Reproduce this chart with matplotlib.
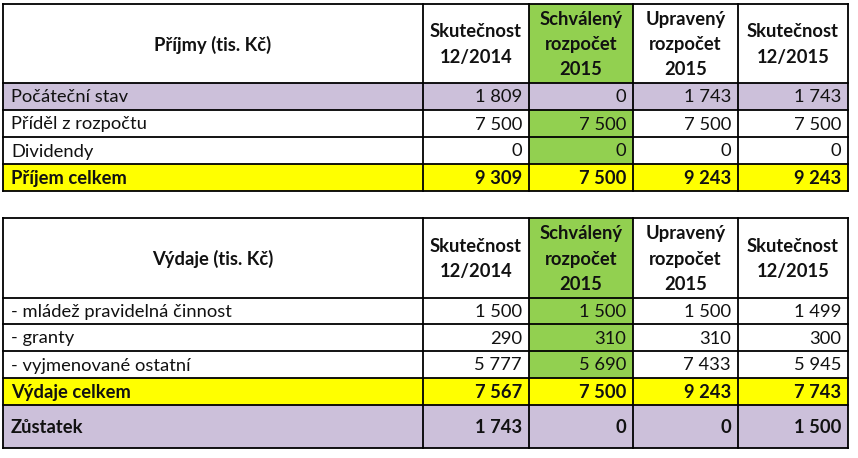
import matplotlib
matplotlib.use("Agg")
import matplotlib.pyplot as plt
from matplotlib.patches import Rectangle

plt.rcParams['font.family'] = ['Lato', 'DejaVu Sans']

# ---- data ----
col_headers = ["Skutečnost\n12/2014", "Schválený\nrozpočet\n2015", "Upravený\nrozpočet\n2015", "Skutečnost\n12/2015"]

inc_title = "Příjmy (tis. Kč)"
inc_labels = ["Počáteční stav", "Příděl z rozpočtu", "Dividendy", "Příjem celkem"]
inc_s2014 = [1809, 7500, 0, 9309]
inc_sch2015 = [0, 7500, 0, 7500]
inc_upr2015 = [1743, 7500, 0, 9243]
inc_s2015 = [1743, 7500, 0, 9243]
inc_styles = ["purple", "normal", "normal", "total"]

exp_title = "Výdaje (tis. Kč)"
exp_labels = ["- mládež pravidelná činnost", "- granty", "- vyjmenované ostatní", "Výdaje celkem", "Zůstatek"]
exp_s2014 = [1500, 290, 5777, 7567, 1743]
exp_sch2015 = [1500, 310, 5690, 7500, 0]
exp_upr2015 = [1500, 310, 7433, 9243, 0]
exp_s2015 = [1499, 300, 5945, 7743, 1500]
exp_styles = ["normal", "normal", "normal", "total", "purple_bold"]

# ---- layout ----
W, H = 858, 458
col_edges = [3, 423, 529, 633, 738, 848]
inc_rows = [4, 83, 110, 137, 164, 191]
exp_rows = [218, 298, 324, 351, 378, 405, 448]

PURPLE = "#CCC0DA"
GREEN = "#92D050"
YELLOW = "#FFFF00"
TXT = "#111111"
FS = 13.2
HFS = 13.2

fig = plt.figure(figsize=(W / 100, H / 100), dpi=100)
ax = fig.add_axes([0, 0, 1, 1])
ax.set_xlim(0, W)
ax.set_ylim(H, 0)
ax.axis('off')


def fmt(v):
    return f"{v:,}".replace(",", " ")


def draw_table(title, labels, cols, styles, rows):
    ncols = len(col_edges) - 1
    # header fills
    for c in range(ncols):
        fc = GREEN if c == 2 else "white"
        ax.add_patch(Rectangle((col_edges[c], rows[0]), col_edges[c + 1] - col_edges[c],
                               rows[1] - rows[0], facecolor=fc, edgecolor='none'))
    # body fills
    for r, st in enumerate(styles):
        y0, y1 = rows[r + 1], rows[r + 2]
        for c in range(ncols):
            if st.startswith("purple"):
                fc = PURPLE
            elif st == "total":
                fc = YELLOW
            else:
                fc = GREEN if c == 2 else "white"
            ax.add_patch(Rectangle((col_edges[c], y0), col_edges[c + 1] - col_edges[c],
                                   y1 - y0, facecolor=fc, edgecolor='none'))
    # grid lines
    for y in rows:
        ax.plot([col_edges[0], col_edges[-1]], [y, y], color='black', lw=1.3, solid_capstyle='projecting')
    for x in col_edges:
        ax.plot([x, x], [rows[0], rows[-1]], color='black', lw=1.3, solid_capstyle='projecting')
    # header text
    hy = (rows[0] + rows[1]) / 2 + 1
    ax.text((col_edges[0] + col_edges[1]) / 2, hy, title, ha='center', va='center',
            fontsize=HFS, fontweight='bold', color=TXT)
    for c, h in enumerate(col_headers):
        ax.text((col_edges[c + 1] + col_edges[c + 2]) / 2, hy, h, ha='center', va='center',
                fontsize=HFS, fontweight='bold', color=TXT, linespacing=1.6)
    # body text
    for r, (lab, st) in enumerate(zip(labels, styles)):
        yc = (rows[r + 1] + rows[r + 2]) / 2 + 1
        bold = st in ("total", "purple_bold")
        fw = 'bold' if bold else 'normal'
        ax.text(col_edges[0] + 8, yc, lab, ha='left', va='center', fontsize=FS,
                fontweight=fw, color=TXT)
        for c, series in enumerate(cols):
            ax.text(col_edges[c + 2] - 7, yc, fmt(series[r]), ha='right', va='center',
                    fontsize=FS, fontweight=fw, color=TXT)


draw_table(inc_title, inc_labels, [inc_s2014, inc_sch2015, inc_upr2015, inc_s2015], inc_styles, inc_rows)
draw_table(exp_title, exp_labels, [exp_s2014, exp_sch2015, exp_upr2015, exp_s2015], exp_styles, exp_rows)

fig.savefig("out.png", dpi=100, facecolor='white')
